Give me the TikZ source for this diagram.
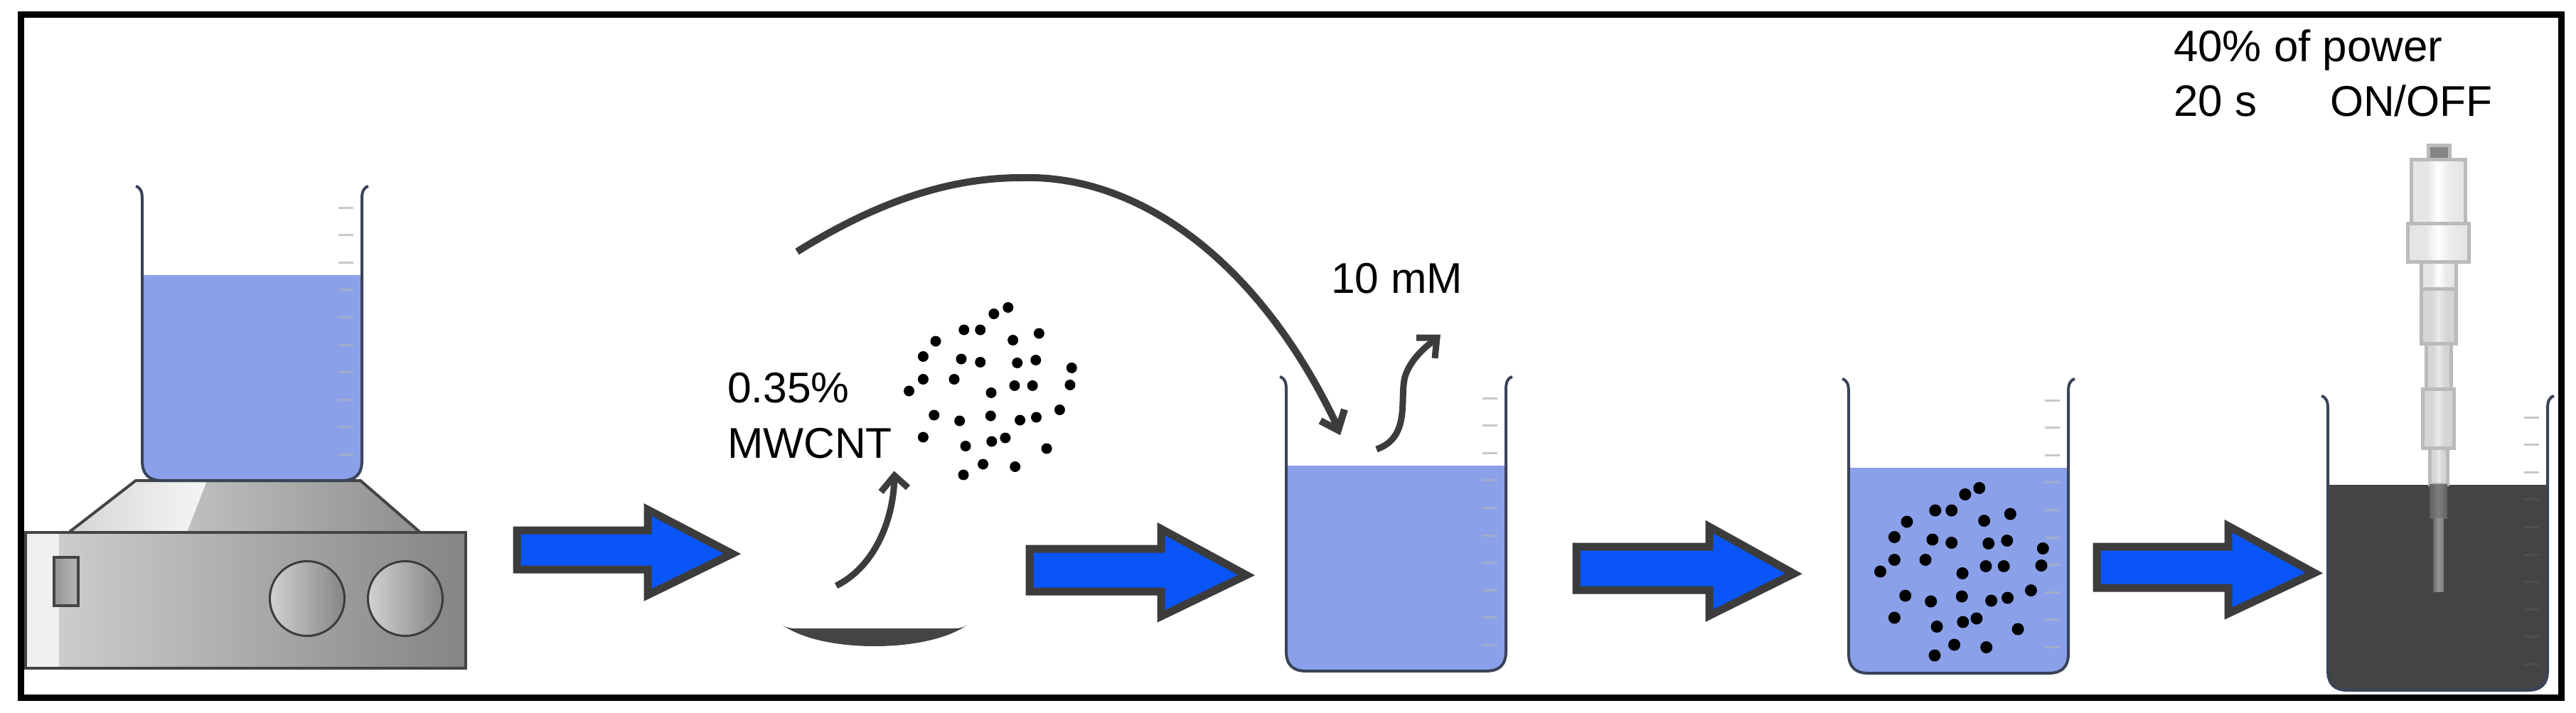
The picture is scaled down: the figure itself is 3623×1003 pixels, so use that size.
\documentclass[tikz,border=0pt]{standalone}
\usepackage{fontspec}
\setmainfont{Liberation Sans}
\definecolor{liq}{HTML}{8AA1EA}
\definecolor{glass}{HTML}{3A4358}
\definecolor{tickc}{HTML}{C9C6CC}
\definecolor{tickb}{HTML}{A3ABC8}
\definecolor{tickd}{HTML}{4E4E4E}
\definecolor{arrowfill}{HTML}{0A55F7}
\definecolor{ink}{HTML}{3C3C3C}
\definecolor{dark}{HTML}{444444}
\definecolor{probeline}{HTML}{BABABA}
\pgfdeclarehorizontalshading{probeshade}{100bp}{color(0bp)=(white!90!black); color(40bp)=(white!90!black); color(50bp)=(white); color(60bp)=(white!92!black); color(100bp)=(white!85!black)}
\pgfdeclarehorizontalshading{beigeshade}{100bp}{color(0bp)=(white!84!black); color(40bp)=(white!84!black); color(50bp)=(white!92!black); color(60bp)=(white!84!black); color(100bp)=(white!80!black)}
\tikzset{
  px/.style={line width=#1*0.01cm},
  lbl/.style={anchor=base west,inner sep=0pt,outer sep=0pt,font=\fontsize{17.2}{20}\selectfont,text=black},
  lbltop/.style={lbl,font=\fontsize{17.6}{20}\selectfont},
  curve/.style={draw=ink,px=9,line cap=butt,line join=miter},
  bigarrow/.style={draw=ink,fill=arrowfill,px=11,line join=miter,miter limit=10},
  knob/.style={draw=ink,px=3,left color=white!82!black,right color=white!52!black},
  probe/.style={draw=probeline,px=5,shading=probeshade},
  probeb/.style={draw=probeline,px=5,shading=beigeshade},
  dot/.style={fill=black}
}
% left, top, liquid colour, tick colour above liquid, tick colour in liquid
\newcommand{\beakerat}[5]{%
  \begin{scope}[shift={(#1,#2)}]
    \fill[#3] (0,125) -- (0,386) .. controls (0,406) and (10,414) .. (28,414) -- (281,414) .. controls (299,414) and (309,406) .. (309,386) -- (309,125) -- cycle;
    \foreach \k in {0,1,2}{\draw[#4,px=3] (276,{30+\k*38.6}) -- (297,{30+\k*38.6});}
    \foreach \k in {3,...,9}{\draw[#5,px=3] (276,{30+\k*38.6}) -- (297,{30+\k*38.6});}
    \draw[glass,px=4] (-9,0) .. controls (-2,2) and (0,8) .. (0,18) -- (0,386) .. controls (0,406) and (10,414) .. (28,414) -- (281,414) .. controls (299,414) and (309,406) .. (309,386) -- (309,18) .. controls (309,8) and (311,2) .. (318,0);
  \end{scope}}
% outer bounds: left, shaft top, shaft bottom, head x, head top, head bottom, tip x, tip y
\newcommand{\bluearrow}[8]{%
  \draw[bigarrow] ({#1+6},{#2+6}) -- ({#4+6},{#2+6}) -- ({#4+6},{#5+9}) -- ({#7-13},#8) -- ({#4+6},{#6-9}) -- ({#4+6},{#3-6}) -- ({#1+6},{#3-6}) -- cycle;}
\newcommand{\dotcloud}[3]{%
  \foreach \a/\b in {546/425,520/443,465/488,495/488,413/520,555/517,603/498,390/563,460/570,495/579,563/581,597/573,663/595,390/627,447/627,364/660,515/665,558/645,591/645,660/643,410/728,457/744,514/730,568/742,598/734,641/713,390/790,468/815,516/802,541/792,617/822,500/866,559/873,464/896}{%
    \fill[dot] ({\a/1.307+1000+#1},{\b/2+220+#2}) circle[radius=#3*0.01cm];}}
\begin{document}
\begin{tikzpicture}[x=0.01cm,y=-0.01cm]
\useasboundingbox (0,0) rectangle (3623,1003);
\fill[white] (0,0) rectangle (3623,1003);
% frame
\draw[black,px=9] (29,20) rectangle (3602,981);
% hot plate
\shade[left color=white!75!black,right color=white!56!black] (291,676) -- (507,676) -- (590,748) -- (263,748) -- cycle;
\shade[left color=white!84!black,right color=white!96!black] (191,676) -- (291,676) -- (263,748) -- (98,748) -- cycle;
\draw[dark,px=4,line join=round] (98,748) -- (191,676) -- (507,676) -- (590,748);
\shade[left color=white!80!black,right color=white!52!black] (83,749) rectangle (655,940);
\fill[white!94!black] (36,749) rectangle (83,940);
\draw[dark,px=4] (36,749) rectangle (655,940);
\draw[dark,px=4,left color=white!58!black,right color=white!72!black] (76,784) rectangle (110,852);
\draw[knob] (432,842) circle[radius=0.525cm];
\draw[knob] (570,842) circle[radius=0.525cm];
% beakers
\beakerat{200}{262}{liq}{tickc}{tickb}
\beakerat{1809}{530}{liq}{tickc}{tickb}
\beakerat{2600}{533}{liq}{tickc}{tickb}
\beakerat{3274}{557}{dark}{tickc}{tickd}
% arrows
\bluearrow{721}{740}{807}{905}{708}{846}{1043}{779}
\bluearrow{1442}{766}{838}{1627}{735}{876}{1766}{809}
\bluearrow{2211}{763}{836}{2398}{732}{875}{2536}{807}
\bluearrow{2943}{763}{833}{3128}{731}{872}{3268}{806}
% spatula
\fill[dark] (1100,879) .. controls (1104,882) and (1110,884) .. (1118,884) -- (1343,884) .. controls (1351,884) and (1357,882) .. (1361,879) .. controls (1330,900) and (1280,909) .. (1230,909) .. controls (1180,909) and (1130,900) .. (1100,879) -- cycle;
% MWCNT
\dotcloud{0}{0}{7.5}
\dotcloud{1366}{254}{8.5}
% curved arrows
\draw[curve] (1176,824) .. controls (1225,800) and (1256,740) .. (1258,672);
\draw[curve] (1239,692) -- (1258,669) -- (1277,686);
\draw[curve,px=10] (1121,354) .. controls (1240,280) and (1340,250) .. (1436,250) .. controls (1600,245) and (1770,365) .. (1881,600);
\draw[curve,px=10] (1857,592) -- (1882,605) -- (1891,576);
\draw[curve] (1936,632) .. controls (1985,615) and (1968,560) .. (1976,530) .. controls (1982,510) and (2000,490) .. (2020,477);
\draw[curve] (1992,475) -- (2021,475) -- (2018,504);
% sonicator probe
\draw[draw=probeline,px=5,fill=white!52!black] (3415,204) rectangle (3445,224);
\draw[probe] (3391,224) rectangle (3467,314);
\draw[probe] (3386,314) rectangle (3472,368);
\draw[probe] (3405,368) rectangle (3454,406);
\draw[probeb] (3405,406) rectangle (3454,483);
\draw[probeb] (3412,483) rectangle (3447,547);
\draw[probeb] (3407,547) rectangle (3451,630);
\draw[probeb] (3417,630) rectangle (3442,681);
\fill[left color=white!38!black,right color=white!38!black,middle color=white!50!black] (3417,681) rectangle (3442,729);
\fill[left color=white!42!black,right color=white!50!black,middle color=white!58!black] (3422,729) rectangle (3437,832);
% labels
\node[lbl] (conc) at (1023,566) {0.35\%};
\node[lbl] (cnt) at (1023,644) {MWCNT};
\node[lbl] (mm) at (1872,412) {10 mM};
\node[lbltop] (pw) at (3057,86) {40\% of power};
\node[lbltop] (sec) at (3057,163) {20 s};
\node[lbl] (onoff) at (3277,163) {ON/OFF};
\end{tikzpicture}
\end{document}
